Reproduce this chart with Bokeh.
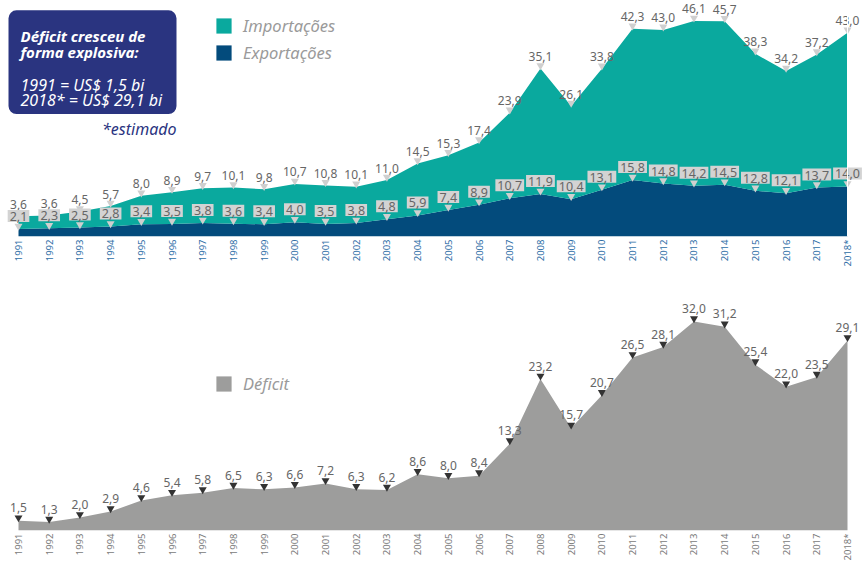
import math
from bokeh.plotting import figure
from bokeh.models import (ColumnDataSource, FixedTicker, Range1d, BoxAnnotation,
                          Label, Legend, LegendItem, Span)
from bokeh.layouts import column
from bokeh.embed import file_html
from bokeh.resources import INLINE

# ---------------- data ----------------
years = list(range(1991, 2019))
year_labels = {2018: "2018*"}
importacoes = [3.6, 3.6, 4.5, 5.7, 8.0, 8.9, 9.7, 10.1, 9.8, 10.7, 10.8, 10.1, 11.0, 14.5,
               15.3, 17.4, 23.9, 35.1, 26.1, 33.8, 42.3, 43.0, 46.1, 45.7, 38.3, 34.2, 37.2, 43.0]
exportacoes = [2.1, 2.3, 2.5, 2.8, 3.4, 3.5, 3.8, 3.6, 3.4, 4.0, 3.5, 3.8, 4.8, 5.9,
               7.4, 8.9, 10.7, 11.9, 10.4, 13.1, 15.8, 14.8, 14.2, 14.5, 12.8, 12.1, 13.7, 14.0]
deficit = [1.5, 1.3, 2.0, 2.9, 4.6, 5.4, 5.8, 6.5, 6.3, 6.6, 7.2, 6.3, 6.2, 8.6,
           8.0, 8.4, 13.3, 23.2, 15.7, 20.7, 26.5, 28.1, 32.0, 31.2, 25.4, 22.0, 23.5, 29.1]

# ---------------- styles ----------------
TEAL = "#0aa99e"
NAVY = "#034b7c"
GREY = "#9d9d9c"
BOXBLUE = "#2a3480"
FONT = "Noto Sans"
W = 863
H_TOP = 269
H_BOT = 294
AX_T = 30
AX_B = 33

PPX = (847 - 18) / 27.0          # pixels per year
X0 = 1991 - 18 / PPX              # data x at canvas left
X1 = X0 + W / PPX
PPU_T = 3.62                      # pixels per unit, top
PPU_B = 6.53                      # pixels per unit, bottom
FR_T = H_TOP - AX_T
FR_B = H_BOT - AX_B


def fmt(v):
    return f"{v:.1f}".replace(".", ",")


def tx(px):
    return X0 + px / PPX


def ty_top(py):
    return (FR_T - py) / PPU_T


def base_fig(h, ax_h, ymax, label_color):
    p = figure(width=W, height=h, output_backend="svg", toolbar_location=None,
               x_range=Range1d(X0, X1), y_range=Range1d(0, ymax),
               min_border_left=0, min_border_right=0, min_border_top=0,
               min_border_bottom=ax_h, y_axis_location=None)
    p.grid.visible = False
    p.outline_line_color = None
    p.background_fill_color = "white"
    p.border_fill_color = "white"
    ax = p.xaxis[0]
    ax.ticker = FixedTicker(ticks=years)
    ax.major_label_overrides = year_labels
    ax.major_label_orientation = math.pi / 2
    ax.axis_line_color = None
    ax.major_tick_line_color = None
    ax.minor_tick_line_color = None
    ax.major_tick_out = 0
    ax.major_tick_in = 0
    ax.minor_tick_out = 0
    ax.major_label_standoff = 3
    ax.major_label_text_font = FONT
    ax.major_label_text_font_size = "9.5px"
    ax.major_label_text_color = label_color
    return p


# ---------------- top chart ----------------
src_t = ColumnDataSource(dict(
    year=years,
    exportacoes=exportacoes,
    importacoes=importacoes,
    imp_top=[e + i for e, i in zip(exportacoes, importacoes)],
    imp_tri=[e + i + 3 / PPU_T for e, i in zip(exportacoes, importacoes)],
    exp_tri=[e + 3 / PPU_T for e in exportacoes],
    imp_lbl=[fmt(v) for v in importacoes],
    exp_lbl=[fmt(v) for v in exportacoes],
))

top = base_fig(H_TOP, AX_T, FR_T / PPU_T, "#2d6da6")
areas = top.varea_stack(["exportacoes", "importacoes"], x="year", source=src_t,
                        color=[NAVY, TEAL])
top.add_layout(Span(location=2018, dimension="height", line_color="white", line_width=1))
top.scatter("year", "imp_tri", source=src_t, marker="inverted_triangle", size=8,
            fill_color="#cfcfcf", line_color=None)
top.scatter("year", "exp_tri", source=src_t, marker="inverted_triangle", size=8,
            fill_color="#cfcfcf", line_color=None)
top.text("year", "imp_top", text="imp_lbl", source=src_t, text_align="center",
         text_baseline="middle", y_offset=-12, text_font_size="12px",
         text_color="#666666", text_font={"value": FONT})
top.text("year", "exportacoes", text="exp_lbl", source=src_t, text_align="center",
         text_baseline="middle", y_offset=-13, text_font_size="12.5px",
         text_color="#666666", text_font={"value": FONT},
         background_fill_color="#d3d3d3",
         padding=dict(left=2, right=2, top=2, bottom=1))

top.add_layout(BoxAnnotation(left=tx(8), right=tx(176), top=ty_top(10), bottom=ty_top(115),
                             fill_color=BOXBLUE, fill_alpha=1, line_color=None,
                             border_radius=8))
for txt, ypx, style, fs in [("Déficit cresceu de", 36, "bold italic", "15px"),
                            ("forma explosiva:", 52, "bold italic", "15px"),
                            ("1991 = US$ 1,5 bi", 86, "italic", "16px"),
                            ("2018* = US$ 29,1 bi", 101, "italic", "16px")]:
    top.add_layout(Label(x=tx(20), y=ty_top(ypx), text=txt, text_color="white",
                         text_font=FONT, text_font_size=fs, text_font_style=style,
                         text_baseline="alphabetic"))
top.add_layout(Label(x=tx(176), y=ty_top(130), text="*estimado", text_color=BOXBLUE,
                     text_font=FONT, text_font_size="16px", text_font_style="italic",
                     text_align="right", text_baseline="alphabetic"))

leg_t = Legend(items=[LegendItem(label="Importações", renderers=[areas[1]]),
                      LegendItem(label="Exportações", renderers=[areas[0]])],
               location=(214, FR_T - 67), orientation="vertical")

# ---------------- bottom chart ----------------
src_b = ColumnDataSource(dict(
    year=years,
    deficit=deficit,
    def_tri=[d + 3 / PPU_B for d in deficit],
    def_lbl=[fmt(v) for v in deficit],
))
bot = base_fig(H_BOT, AX_B, FR_B / PPU_B, "#7a7a7a")
area_b = bot.varea(x="year", y1=0, y2="deficit", source=src_b, color=GREY)
bot.scatter("year", "def_tri", source=src_b, marker="inverted_triangle", size=8,
            fill_color="#333333", line_color=None)
bot.text("year", "deficit", text="def_lbl", source=src_b, text_align="center",
         text_baseline="middle", y_offset=-13, text_font_size="12px",
         text_color="#666666", text_font={"value": FONT})
leg_b = Legend(items=[LegendItem(label="Déficit", renderers=[area_b])],
               location=(214, FR_B - (395 - H_TOP)), orientation="vertical")

for p, leg in [(top, leg_t), (bot, leg_b)]:
    leg.glyph_width = 19
    leg.glyph_height = 19
    leg.spacing = 4
    leg.padding = 0
    leg.margin = 0
    leg.label_standoff = 10
    leg.label_text_font = FONT
    leg.label_text_font_size = "16.5px"
    leg.label_text_font_style = "italic"
    leg.label_text_color = "#9a9a9a"
    leg.border_line_color = None
    leg.background_fill_alpha = 0
    leg.label_height = 19
    p.add_layout(leg)

layout = column(top, bot, spacing=0)
open("out.html", "w").write(file_html(layout, INLINE))
